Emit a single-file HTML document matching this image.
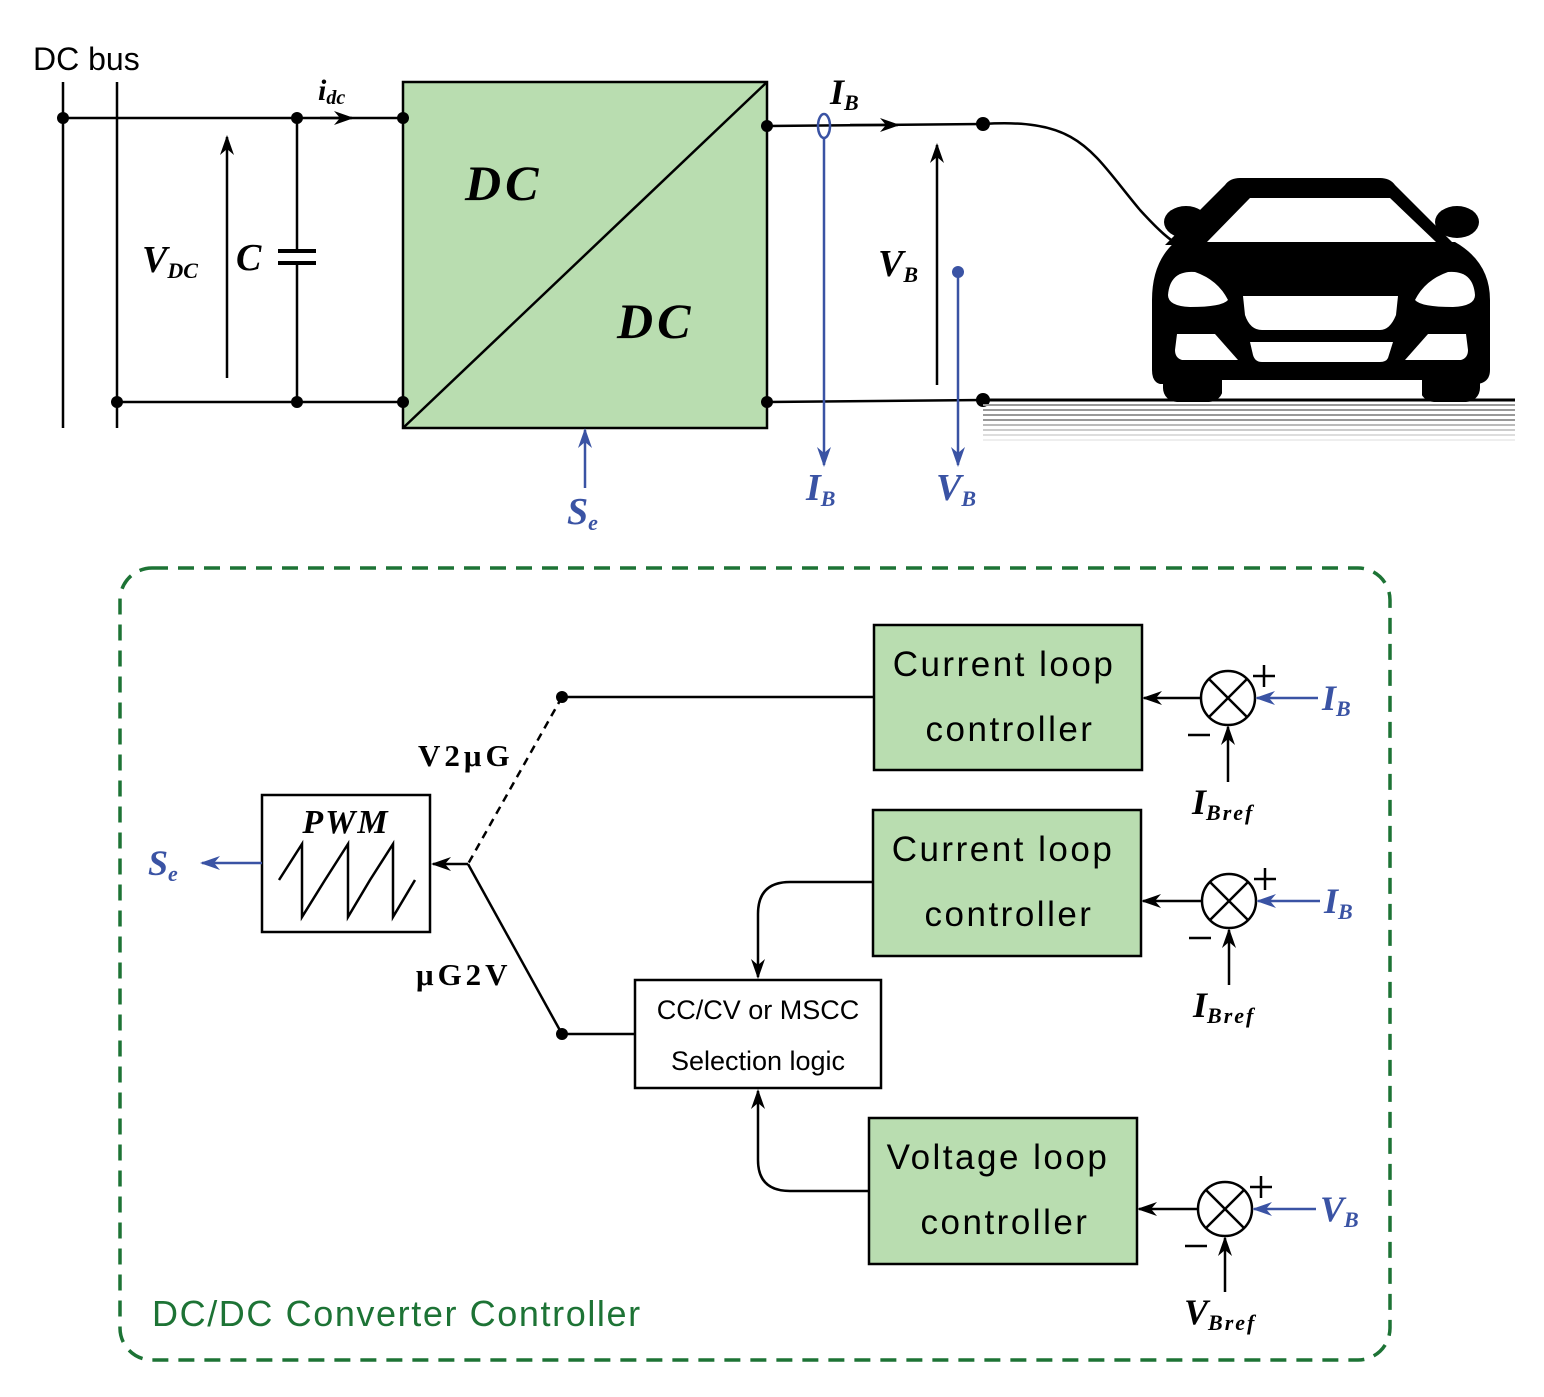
<!DOCTYPE html>
<html><head><meta charset="utf-8"><style>
html,body{margin:0;padding:0;background:#fff}
svg{display:block}
.s{font-family:"Liberation Serif",serif;font-weight:bold;font-style:italic}
.t{font-family:"Liberation Sans","DejaVu Sans",sans-serif}
</style></head><body>
<svg width="1544" height="1397" viewBox="0 0 1544 1397" xmlns="http://www.w3.org/2000/svg">
<defs>
<marker id="a" viewBox="0 0 20 14" refX="18" refY="7" markerWidth="20" markerHeight="14" markerUnits="userSpaceOnUse" orient="auto"><path d="M0,0 L20,7 L0,14 L6,7 Z" fill="#000"/></marker>
<marker id="ab" viewBox="0 0 20 14" refX="18" refY="7" markerWidth="20" markerHeight="14" markerUnits="userSpaceOnUse" orient="auto"><path d="M0,0 L20,7 L0,14 L6,7 Z" fill="#3a53a4"/></marker>
</defs>
<g stroke="#000" stroke-width="2.5" fill="none">
<line x1="63" y1="82" x2="63" y2="428"/>
<line x1="117" y1="82" x2="117" y2="428"/>
<line x1="63" y1="118" x2="403" y2="118"/>
<line x1="117" y1="402" x2="403" y2="402"/>
<line x1="297" y1="118" x2="297" y2="251"/>
<line x1="297" y1="263" x2="297" y2="402"/>
<line x1="278" y1="251" x2="316" y2="251" stroke-width="4"/>
<line x1="278" y1="263" x2="316" y2="263" stroke-width="4"/>
<line x1="227" y1="378" x2="227" y2="137" marker-end="url(#a)"/>
<line x1="320" y1="118" x2="352" y2="118" marker-end="url(#a)"/>
<line x1="767" y1="126" x2="983" y2="124"/>
<line x1="850" y1="125" x2="898" y2="125" marker-end="url(#a)"/>
<line x1="767" y1="402" x2="983" y2="400"/>
<line x1="937" y1="385" x2="937" y2="145" marker-end="url(#a)"/>
<path d="M983,124 C1080,118 1090,150 1140,210 C1160,232 1170,240 1180,246"/>
</g>
<rect x="403" y="82" width="364" height="346" fill="#b9ddb0" stroke="#000" stroke-width="2.5"/>
<line x1="403" y1="428" x2="767" y2="82" stroke="#000" stroke-width="2.5"/>
<g fill="#000">
<circle cx="63" cy="118" r="6"/><circle cx="297" cy="118" r="6"/><circle cx="403" cy="118" r="6"/>
<circle cx="117" cy="402" r="6"/><circle cx="297" cy="402" r="6"/><circle cx="403" cy="402" r="6"/>
<circle cx="767" cy="126" r="6"/><circle cx="767" cy="402" r="6"/>
<circle cx="983" cy="124" r="7"/><circle cx="983" cy="400" r="7"/>
</g>
<text x="33" y="70" class="t" font-size="32">DC bus</text>
<text x="318" y="100" class="s" font-size="30">i<tspan font-size="20" dy="4">dc</tspan></text>
<text x="142" y="272" class="s" font-size="38">V<tspan font-size="22" dy="6">DC</tspan></text>
<text x="236" y="270" class="s" font-size="38">C</text>
<text x="465" y="200" class="s" font-size="50" letter-spacing="4">DC</text>
<text x="617" y="338" class="s" font-size="50" letter-spacing="4">DC</text>
<text x="830" y="104" class="s" font-size="36">I<tspan font-size="22" dy="6">B</tspan></text>
<text x="878" y="276" class="s" font-size="38">V<tspan font-size="22" dy="6">B</tspan></text>
<g stroke="#3a53a4" stroke-width="2.5" fill="none">
<ellipse cx="824" cy="126" rx="6" ry="12"/>
<line x1="824" y1="138" x2="824" y2="465" marker-end="url(#ab)"/>
<line x1="958" y1="272" x2="958" y2="465" marker-end="url(#ab)"/>
<line x1="585" y1="488" x2="585" y2="430" marker-end="url(#ab)"/>
</g>
<circle cx="958" cy="272" r="6" fill="#3a53a4"/>
<g fill="#3a53a4">
<text x="806" y="500" class="s" font-size="38">I<tspan font-size="22" dy="6">B</tspan></text>
<text x="936" y="500" class="s" font-size="38">V<tspan font-size="22" dy="6">B</tspan></text>
<text x="567" y="524" class="s" font-size="38">S<tspan font-size="22" dy="6">e</tspan></text>
</g>
<g stroke="#999" stroke-width="2">
<line x1="983" y1="405" x2="1515" y2="405"/><line x1="983" y1="410" x2="1515" y2="410"/>
<line x1="983" y1="415" x2="1515" y2="415"/><line x1="983" y1="420" x2="1515" y2="420"/>
<line x1="983" y1="425" x2="1515" y2="425" stroke="#bbb"/><line x1="983" y1="430" x2="1515" y2="430" stroke="#ccc"/>
<line x1="983" y1="435" x2="1515" y2="435" stroke="#ddd"/><line x1="983" y1="440" x2="1515" y2="440" stroke="#eee"/>
</g>
<line x1="983" y1="400" x2="1515" y2="400" stroke="#000" stroke-width="3"/>
<g fill="#000">
<path d="M1165,245 L1225,185 Q1230,178 1240,178 L1380,178 Q1390,178 1395,185 L1455,245 Z"/>
<ellipse cx="1186" cy="222" rx="22" ry="16"/>
<ellipse cx="1457" cy="222" rx="22" ry="16"/>
<path d="M1175,242 L1455,242 Q1490,262 1490,300 L1490,370 Q1490,382 1478,384 L1160,384 Q1152,382 1152,370 L1152,300 Q1152,262 1175,242 Z"/>
<rect x="1163" y="360" width="60" height="42" rx="14"/>
<rect x="1420" y="360" width="60" height="42" rx="14"/>
</g>
<g fill="#fff">
<path d="M1207,242 L1250,198 L1390,198 L1436,242 Z"/>
<path d="M1168,295 Q1170,270 1195,272 Q1218,280 1228,300 Q1222,307 1190,307 Q1168,306 1168,295 Z"/>
<path d="M1475,295 Q1473,270 1448,272 Q1425,280 1415,300 Q1421,307 1453,307 Q1475,306 1475,295 Z"/>
<path d="M1243,296 L1398,296 L1396,315 Q1390,330 1380,330 L1262,330 Q1250,330 1245,315 Z"/>
<path d="M1250,342 L1393,342 L1388,358 Q1386,362 1380,362 L1262,362 Q1255,362 1253,355 Z"/>
<path d="M1177,334 L1215,334 L1238,360 L1182,360 Q1175,358 1175,350 Z"/>
<path d="M1466,334 L1428,334 L1405,360 L1461,360 Q1468,358 1468,350 Z"/>
<rect x="1222" y="380" width="200" height="16"/>
</g>
<rect x="120" y="568" width="1270" height="792" rx="32" fill="none" stroke="#1d7335" stroke-width="3.5" stroke-dasharray="16,10"/>
<text x="152" y="1326" class="t" font-size="36" fill="#1d7335" letter-spacing="1.6">DC/DC Converter Controller</text>
<g fill="#b9ddb0" stroke="#000" stroke-width="2.5">
<rect x="874" y="625" width="268" height="145"/>
<rect x="873" y="810" width="268" height="146"/>
<rect x="869" y="1118" width="268" height="146"/>
</g>
<g fill="#fff" stroke="#000" stroke-width="2.5">
<rect x="635" y="980" width="246" height="108"/>
<rect x="262" y="795" width="168" height="137"/>
</g>
<g class="t" font-size="35" text-anchor="middle" fill="#000" letter-spacing="2.5">
<text x="1004" y="676">Current loop</text><text x="1010" y="741">controller</text>
<text x="1003" y="861">Current loop</text><text x="1009" y="926">controller</text>
<text x="998" y="1169">Voltage loop</text><text x="1005" y="1234">controller</text>
<text x="758" y="1019" font-size="27" letter-spacing="0">CC/CV or MSCC</text>
<text x="758" y="1070" font-size="27" letter-spacing="0">Selection logic</text>
</g>
<text x="346" y="833" class="s" font-size="34" text-anchor="middle" letter-spacing="2">PWM</text>
<polyline points="279,880 302,844 302,917 325,880 348,844 348,917 370,880 393,844 393,917 415,880" fill="none" stroke="#000" stroke-width="2.5"/>
<g stroke="#000" stroke-width="2.5" fill="none">
<line x1="562" y1="697" x2="874" y2="697"/>
<line x1="562" y1="697" x2="468" y2="864" stroke-dasharray="8,6"/>
<line x1="468" y1="864" x2="562" y2="1034"/>
<line x1="562" y1="1034" x2="635" y2="1034"/>
<line x1="468" y1="864" x2="433" y2="864" marker-end="url(#a)"/>
<path d="M873,882 L790,882 Q758,882 758,914 L758,977" marker-end="url(#a)"/>
<path d="M869,1191 L790,1191 Q758,1191 758,1160 L758,1091" marker-end="url(#a)"/>
<circle cx="1228" cy="698" r="27"/><circle cx="1229" cy="901" r="27"/><circle cx="1225" cy="1209" r="27"/>
<path d="M1209,679 L1247,717 M1247,679 L1209,717"/>
<path d="M1210,882 L1248,920 M1248,882 L1210,920"/>
<path d="M1206,1190 L1244,1228 M1244,1190 L1206,1228"/>
<line x1="1201" y1="698" x2="1144" y2="698" marker-end="url(#a)"/>
<line x1="1202" y1="901" x2="1143" y2="901" marker-end="url(#a)"/>
<line x1="1198" y1="1209" x2="1139" y2="1209" marker-end="url(#a)"/>
<line x1="1228" y1="782" x2="1228" y2="727" marker-end="url(#a)"/>
<line x1="1229" y1="985" x2="1229" y2="930" marker-end="url(#a)"/>
<line x1="1225" y1="1292" x2="1225" y2="1238" marker-end="url(#a)"/>
<path d="M1253,676 L1275,676 M1264,665 L1264,687 M1188,735 L1210,735"/>
<path d="M1254,879 L1276,879 M1265,868 L1265,890 M1189,938 L1211,938"/>
<path d="M1250,1187 L1272,1187 M1261,1176 L1261,1198 M1185,1246 L1207,1246"/>
</g>
<g fill="#000"><circle cx="562" cy="697" r="6"/><circle cx="562" cy="1034" r="6"/></g>
<g stroke="#3a53a4" stroke-width="2.5">
<line x1="1318" y1="698" x2="1257" y2="698" marker-end="url(#ab)"/>
<line x1="1320" y1="901" x2="1258" y2="901" marker-end="url(#ab)"/>
<line x1="1316" y1="1209" x2="1254" y2="1209" marker-end="url(#ab)"/>
<line x1="262" y1="863" x2="202" y2="863" marker-end="url(#ab)"/>
</g>
<g fill="#3a53a4">
<text x="1322" y="710" class="s" font-size="36">I<tspan font-size="22" dy="6">B</tspan></text>
<text x="1324" y="913" class="s" font-size="36">I<tspan font-size="22" dy="6">B</tspan></text>
<text x="1320" y="1221" class="s" font-size="36">V<tspan font-size="22" dy="6">B</tspan></text>
<text x="148" y="875" class="s" font-size="36">S<tspan font-size="22" dy="6">e</tspan></text>
</g>
<g fill="#000">
<text x="1192" y="814" class="s" font-size="36">I<tspan font-size="22" dy="6" letter-spacing="2">Bref</tspan></text>
<text x="1193" y="1017" class="s" font-size="36">I<tspan font-size="22" dy="6" letter-spacing="2">Bref</tspan></text>
<text x="1184" y="1324" class="s" font-size="36">V<tspan font-size="22" dy="6" letter-spacing="2">Bref</tspan></text>
<text x="418" y="766" font-family="Liberation Serif,serif" font-weight="bold" font-size="31" letter-spacing="4">V2μG</text>
<text x="416" y="985" font-family="Liberation Serif,serif" font-weight="bold" font-size="31" letter-spacing="4">μG2V</text>
</g>
</svg>
</body></html>
